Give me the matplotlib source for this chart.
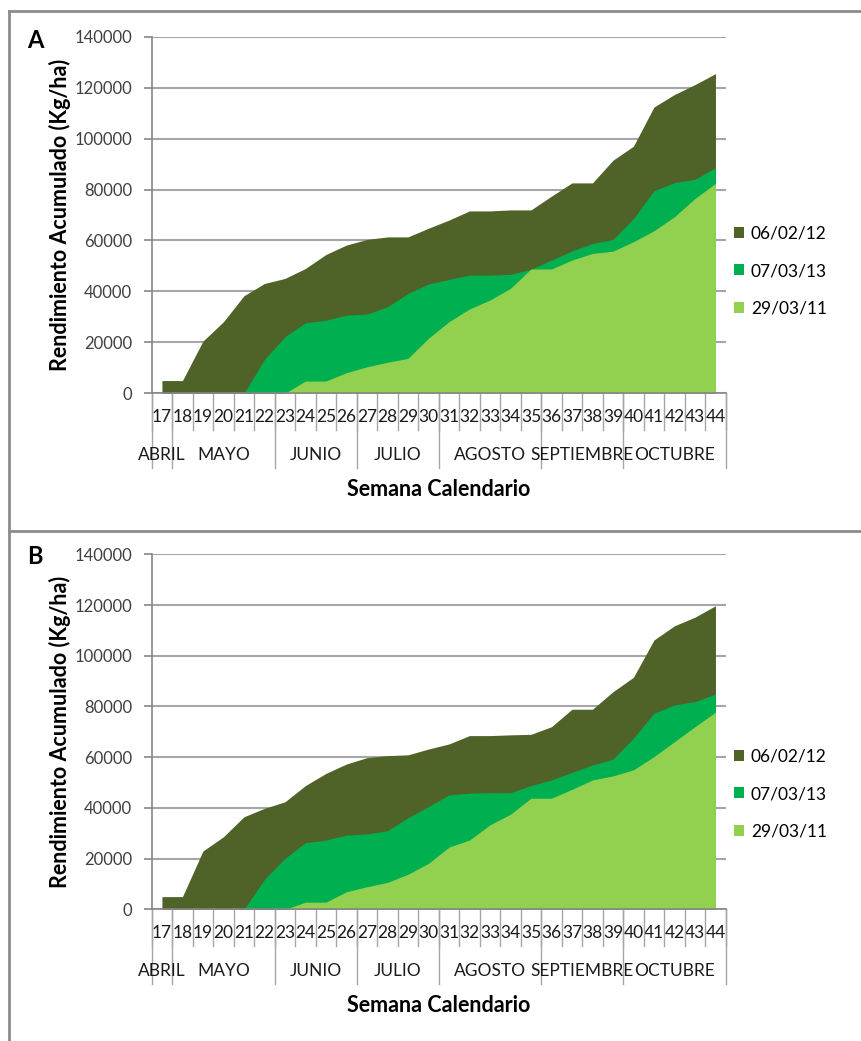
import matplotlib.pyplot as plt
from matplotlib.lines import Line2D
from matplotlib.transforms import blended_transform_factory

plt.rcParams['font.family'] = ['Lato', 'DejaVu Sans']

semanas = [str(s) for s in range(17, 45)]
meses = ['ABRIL', 'MAYO', 'JUNIO', 'JULIO', 'AGOSTO', 'SEPTIEMBRE', 'OCTUBRE']
semanas_por_mes = [1, 5, 4, 4, 5, 4, 5]
series = ['06/02/12', '07/03/13', '29/03/11']
colores = ['#4F6228', '#00B050', '#92D050']
y_ticks = [0, 20000, 40000, 60000, 80000, 100000, 120000, 140000]

# panel A
a_060212 = [5000, 5000, 20500, 28100, 38300, 43100, 45100, 49000, 54500, 58200,
            60400, 61400, 61400, 64800, 68000, 71600, 71600, 72000, 72000, 77400,
            82600, 82600, 91500, 97000, 112400, 117300, 121200, 125500]
a_070313 = [0, 0, 0, 0, 0, 13300, 22200, 27700, 28700, 30700,
            31100, 34000, 39200, 42900, 44700, 46400, 46400, 46700, 48700, 52300,
            55900, 58800, 60400, 68600, 79500, 82700, 84000, 88600]
a_290311 = [0, 0, 0, 0, 0, 0, 0, 4800, 4800, 8100,
            10400, 12200, 13700, 21600, 28100, 33100, 36600, 41200, 48800, 48800,
            52300, 54900, 55800, 59500, 63800, 69300, 76500, 82400]

# panel B
b_060212 = [5000, 5000, 23000, 28600, 36500, 39800, 42400, 48800, 53600, 57300,
            59800, 60600, 60900, 63200, 65200, 68500, 68500, 68800, 69000, 72000,
            78900, 78900, 85800, 91500, 106200, 111800, 115200, 119700]
b_070313 = [0, 0, 0, 0, 0, 11800, 20100, 26300, 27300, 29300,
            29700, 31000, 36100, 40500, 45100, 45800, 46000, 46000, 48800, 51000,
            54000, 56900, 59200, 67500, 77300, 80600, 81900, 84900]
b_290311 = [0, 0, 0, 0, 0, 0, 0, 2800, 2800, 6900,
            8900, 10600, 13800, 18100, 24500, 27300, 33300, 37500, 43800, 43800,
            47300, 51000, 52600, 55000, 60200, 66100, 72000, 77700]

W, H = 862, 1041
fig = plt.figure(figsize=(W / 100, H / 100), dpi=100)

gris = '#a6a6a6'
eje = '#868686'


def panel(rect, datos, letra, letra_y, legend_y):
    ax = fig.add_axes(rect)
    x = list(range(len(semanas)))
    for vals, nombre, c in zip(datos, series, colores):
        ax.fill_between(x, vals, 0, color=c, lw=0, label=nombre, zorder=2)
    ax.set_xlim(-0.5, len(semanas) - 0.5)
    ax.set_ylim(0, 140000)
    ax.set_yticks(y_ticks)
    ax.set_yticklabels([str(v) for v in y_ticks], fontsize=12, color='#404040')
    ax.yaxis.grid(True, color=gris, lw=1.5, zorder=1)
    ax.set_axisbelow(True)
    for s in ['top', 'right']:
        ax.spines[s].set_visible(False)
    for s in ['left', 'bottom']:
        ax.spines[s].set_color(eje)
        ax.spines[s].set_linewidth(1.2)
    ax.tick_params(axis='y', length=6, color=eje, width=1.2, pad=8)
    ax.set_xticks(x)
    ax.set_xticklabels(semanas, fontsize=12.5, color='#1a1a1a')
    ax.tick_params(axis='x', length=0, pad=11)

    hpx = rect[3] * H
    tr = blended_transform_factory(ax.transData, ax.transAxes)
    # inner boundaries
    for i in range(len(semanas) + 1):
        ax.add_line(Line2D([i - 0.5, i - 0.5], [0, -37 / hpx], transform=tr,
                           color=gris, lw=1, clip_on=False))
    # month groups
    inicio = 0
    for mes, n in zip(meses, semanas_por_mes):
        ax.add_line(Line2D([inicio - 0.5, inicio - 0.5], [0, -75 / hpx], transform=tr,
                           color=gris, lw=1, clip_on=False))
        ax.text(inicio - 0.5 + n / 2, -62 / hpx, mes, transform=tr, ha='center',
                va='center', fontsize=12.5, color='#1a1a1a')
        inicio += n
    ax.add_line(Line2D([inicio - 0.5, inicio - 0.5], [0, -75 / hpx], transform=tr,
                       color=gris, lw=1, clip_on=False))

    ax.text(0.5, -96 / hpx, 'Semana Calendario', transform=ax.transAxes,
            ha='center', va='center', fontsize=15.5, fontweight='bold')
    ax.text(-92 / (rect[2] * W), 0.5, 'Rendimiento Acumulado (Kg/ha)',
            transform=ax.transAxes, rotation=90, ha='center', va='center',
            fontsize=15.5, fontweight='bold')
    fig.text(35 / W, 1 - letra_y / H, letra, ha='center', va='center',
             fontsize=17, fontweight='bold')
    ax.legend(loc='center left', bbox_to_anchor=(718 / W, 1 - legend_y / H),
              bbox_transform=fig.transFigure, frameon=False, fontsize=12.5,
              handlelength=0.6, handleheight=0.6, handletextpad=0.4,
              labelspacing=1.25)
    return ax


panel([151.7 / W, 1 - 393.3 / H, 574 / W, 356.6 / H],
      [a_060212, a_070313, a_290311], 'A', 41, 271)
panel([151.7 / W, 1 - 909.3 / H, 574 / W, 355 / H],
      [b_060212, b_070313, b_290311], 'B', 556, 794)

# panel borders
borde = dict(color='#8c8c8c', lw=2, transform=fig.transFigure)
fig.add_artist(Line2D([9 / W, 1], [1 - 11 / H, 1 - 11 / H], **borde))
fig.add_artist(Line2D([9 / W, 1], [1 - 531 / H, 1 - 531 / H], **borde))
fig.add_artist(Line2D([9 / W, 9 / W], [1 - 11 / H, 0], **borde))

fig.savefig('out.png', dpi=100)
